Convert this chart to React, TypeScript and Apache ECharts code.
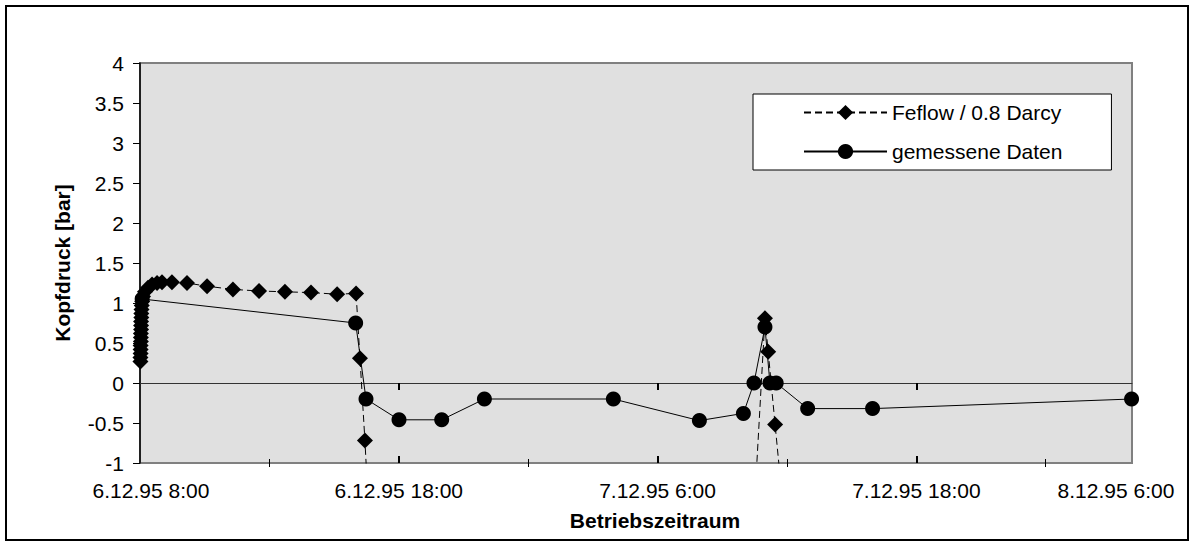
import { useEffect, useRef } from "react";
import * as echarts from "echarts";

// Time axis in hours since 6.12.95 8:00
const tickHours = [0, 12, 24, 36, 46];
const tickLabels = ["6.12.95 8:00", "6.12.95 18:00", "7.12.95 6:00", "7.12.95 18:00", "8.12.95 6:00"];
const majorTickHours = [12, 24, 36];
const minorTickHours = [6, 18, 30, 42];

// Feflow simulation, 0.8 Darcy
const feflowHours = [
  0.02, 0.02, 0.03, 0.03, 0.03, 0.04, 0.04, 0.04, 0.05, 0.05, 0.05, 0.06, 0.06, 0.07, 0.08, 0.1,
  0.14, 0.23, 0.37, 0.56, 0.79, 1.02, 1.48, 2.18, 3.11, 4.31, 5.52, 6.72, 7.93, 9.14, 10.02,
  10.2, 10.43, 10.6, 12, 18, 24, 28.5, 28.98, 29.13, 29.45, 29.8,
];
const feflowValues = [
  0.27, 0.32, 0.37, 0.42, 0.47, 0.52, 0.57, 0.62, 0.67, 0.72, 0.77, 0.82, 0.87, 0.92, 0.97, 1.02,
  1.08, 1.14, 1.19, 1.23, 1.25, 1.26, 1.26, 1.25, 1.21, 1.17, 1.15, 1.14, 1.13, 1.11, 1.12,
  0.31, -0.72, -1.6, -2.4, -2.6, -2.5, -1.5, 0.81, 0.39, -0.52, -1.5,
];

// Measured wellhead pressure
const measuredHours = [0.1, 10.0, 10.48, 12.01, 13.99, 15.97, 21.95, 25.94, 27.98, 28.47, 28.98, 29.21, 29.5, 30.96, 33.97, 45.98];
const measuredValues = [1.05, 0.75, -0.2, -0.46, -0.46, -0.2, -0.2, -0.47, -0.38, 0.0, 0.7, 0.0, 0.0, -0.32, -0.32, -0.2];

const FONT = "'Liberation Sans', Arial, Helvetica, sans-serif";
const X_MIN = 0;
const X_MAX = 46;

const pairs = (xs: number[], ys: number[]) => xs.map((x, i) => [x, ys[i]]);

export default function App() {
  const ref = useRef<HTMLDivElement>(null);

  useEffect(() => {
    if (!ref.current) return;
    const chart = echarts.init(ref.current, null, { renderer: "svg" });

    // Axes sitting on the zero line, used for the crossing tick marks
    const zeroAxis = (values: number[], len: number, inside: boolean, width: number, lineVisible: boolean) => ({
      type: "value",
      min: X_MIN,
      max: X_MAX,
      position: "bottom",
      axisLine: { show: true, onZero: true, lineStyle: { color: "#333", width: 1, opacity: lineVisible ? 1 : 0 } },
      axisTick: { show: true, inside, length: len, customValues: values, lineStyle: { color: "#000", width } },
      axisLabel: { show: false },
      splitLine: { show: false },
    });

    chart.setOption({
      animation: false,
      backgroundColor: "#fff",
      grid: {
        left: 140,
        top: 63,
        width: 992,
        height: 400,
        show: true,
        backgroundColor: "#e0e0e0",
        borderColor: "#808080",
        borderWidth: 2,
        containLabel: false,
      },
      legend: {
        data: ["Feflow / 0.8 Darcy", "gemessene Daten"],
        orient: "vertical",
        left: 753,
        top: 94,
        padding: [8, 49, 8, 50],
        itemWidth: 83,
        itemHeight: 19,
        itemGap: 18,
        itemTextGap: 6,
        backgroundColor: "#fff",
        borderColor: "#000",
        borderWidth: 1,
        selectedMode: false,
        textStyle: { fontFamily: FONT, fontSize: 21, color: "#000" },
      },
      xAxis: [
        {
          type: "value",
          min: X_MIN,
          max: X_MAX,
          position: "bottom",
          axisLine: { show: false, onZero: false },
          axisTick: { show: false },
          splitLine: { show: false },
          axisLabel: {
            customValues: tickHours,
            showMinLabel: true,
            showMaxLabel: true,
            margin: 17,
            color: "#000",
            fontFamily: FONT,
            fontSize: 21,
            formatter: (v: number) => {
              const i = tickHours.indexOf(v);
              if (i < 0) return "";
              if (i === 0) return `{first|${tickLabels[i]}}`;
              if (i === tickLabels.length - 1) return `{last|${tickLabels[i]}}`;
              return tickLabels[i];
            },
            rich: {
              first: { fontFamily: FONT, fontSize: 21, color: "#000", padding: [0, 0, 0, 22] },
              last: { fontFamily: FONT, fontSize: 21, color: "#000", padding: [0, 32, 0, 0] },
            },
          },
        },
        zeroAxis(majorTickHours, 7, false, 2, true),
        zeroAxis(majorTickHours, 7, true, 2, false),
        zeroAxis(minorTickHours, 4, false, 1, false),
        zeroAxis(minorTickHours, 4, true, 1, false),
      ],
      yAxis: {
        type: "value",
        min: -1,
        max: 4,
        interval: 0.5,
        axisLine: { show: true, onZero: false, lineStyle: { color: "#000", width: 1.5 } },
        axisTick: { show: true, length: 7, lineStyle: { color: "#000", width: 1 } },
        splitLine: { show: false },
        axisLabel: { color: "#000", fontFamily: FONT, fontSize: 21, margin: 16 },
      },
      graphic: [
        {
          type: "rect",
          silent: true,
          shape: { x: 6, y: 6, width: 1182, height: 534 },
          style: { fill: "none", stroke: "#000", lineWidth: 2 },
        },
        {
          type: "text",
          silent: true,
          x: 62,
          y: 263,
          rotation: Math.PI / 2,
          style: {
            text: "Kopfdruck [bar]",
            fill: "#000",
            fontFamily: FONT,
            fontSize: 21,
            fontWeight: "bold",
            align: "center",
            verticalAlign: "middle",
          },
        },
        {
          type: "text",
          silent: true,
          x: 655,
          y: 520,
          style: {
            text: "Betriebszeitraum",
            fill: "#000",
            fontFamily: FONT,
            fontSize: 21,
            fontWeight: "bold",
            align: "center",
            verticalAlign: "middle",
          },
        },
      ],
      series: [
        {
          name: "Feflow / 0.8 Darcy",
          type: "line",
          data: pairs(feflowHours, feflowValues),
          symbol: "diamond",
          symbolSize: 16,
          showAllSymbol: true,
          clip: true,
          color: "#000",
          itemStyle: { color: "#000" },
          lineStyle: { color: "#000", width: 1, type: [7, 4] },
          emphasis: { disabled: true },
          z: 3,
        },
        {
          name: "gemessene Daten",
          type: "line",
          data: pairs(measuredHours, measuredValues),
          symbol: "circle",
          symbolSize: 15,
          showAllSymbol: true,
          clip: true,
          color: "#000",
          itemStyle: { color: "#000" },
          lineStyle: { color: "#000", width: 1, type: "solid" },
          emphasis: { disabled: true },
          z: 4,
        },
      ],
    });

    return () => chart.dispose();
  }, []);

  return <div ref={ref} style={{ position: "absolute", left: 0, top: 0, width: 1194, height: 546 }} />;
}
